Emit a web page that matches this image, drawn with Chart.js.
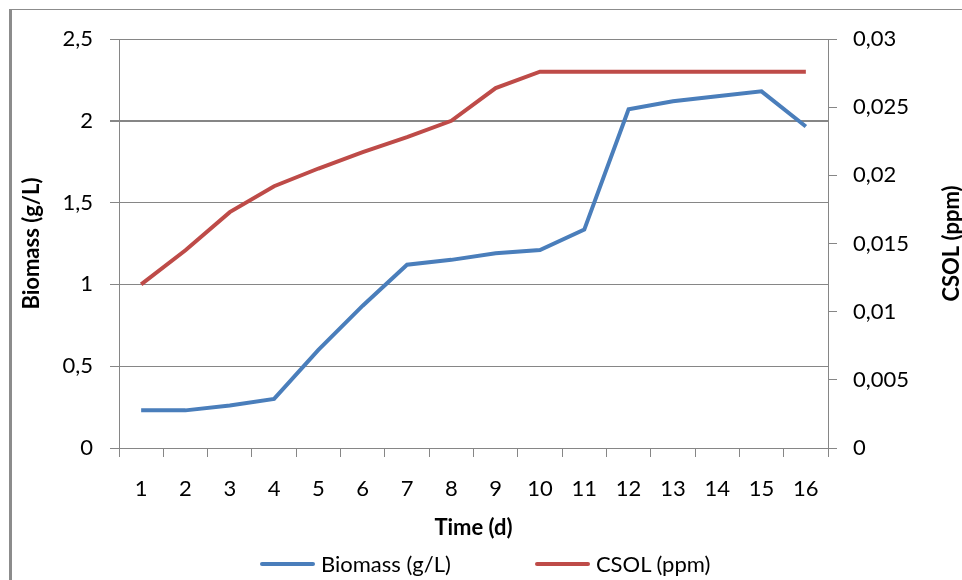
<!DOCTYPE html>
<html>
<head>
<meta charset="utf-8">
<script src="https://cdn.jsdelivr.net/npm/chart.js@4.4.1/dist/chart.umd.min.js"></script>
<style>
  body { margin: 0; background: #fff; }
  #wrap { position: relative; width: 962px; height: 580px; overflow: hidden; }
  #frame { position: absolute; left: 9px; top: 9px; right: -5px; bottom: -5px;
           border-left: 3px solid #8c8c8c; border-top: 1px solid #8c8c8c; pointer-events: none; }
  #legend { position: absolute; left: 260px; top: 551px; display: flex; gap: 84px;
            font-family: Lato, sans-serif; font-size: 22px; color: #000; line-height: 26px; }
  .item { display: flex; align-items: center; }
  .swatch { width: 55px; height: 4px; margin-right: 6px; border-radius: 2px; }
</style>
</head>
<body>
<div id="wrap">
  <canvas id="chart"></canvas>
  <div id="frame"></div>
  <div id="legend"></div>
</div>
<script>
// data
const days = ['1', '2', '3', '4', '5', '6', '7', '8', '9', '10', '11', '12', '13', '14', '15', '16'];
const biomass = [0.23, 0.23, 0.26, 0.30, 0.60, 0.87, 1.12, 1.15, 1.19, 1.21, 1.335, 2.07, 2.12, 2.15, 2.18, 1.965];
const csol = [0.012, 0.0145, 0.0173, 0.0192, 0.0205, 0.0217, 0.0228, 0.024, 0.0264, 0.0276, 0.0276, 0.0276, 0.0276, 0.0276, 0.0276, 0.0276];
const biomassTicks = { min: 0, max: 2.5, step: 0.5 };
const csolTicks = { min: 0, max: 0.03, step: 0.005 };

const gray = '#868686';
const comma = v => Number(v.toFixed(4)).toString().replace('.', ',');

Chart.defaults.font.family = 'Lato';
Chart.defaults.font.size = 22;
Chart.defaults.color = '#000';

// right axis title reads bottom to top, like the left one
const rightTitle = {
  id: 'rightTitle',
  afterDraw(chart) {
    const { ctx, chartArea } = chart;
    ctx.save();
    ctx.translate(952, (chartArea.top + chartArea.bottom) / 2);
    ctx.rotate(-Math.PI / 2);
    ctx.font = 'bold 22px Lato';
    ctx.fillStyle = '#000';
    ctx.textAlign = 'center';
    ctx.textBaseline = 'middle';
    ctx.fillText('CSOL (ppm)', 0, 0);
    ctx.restore();
  }
};

const chart = new Chart(document.getElementById('chart'), {
  type: 'line',
  data: {
    labels: days,
    datasets: [
      {
        label: 'Biomass (g/L)',
        data: biomass,
        borderColor: '#4A7EBB',
        backgroundColor: '#4A7EBB',
        borderWidth: 4,
        pointRadius: 0,
        tension: 0,
        yAxisID: 'y'
      },
      {
        label: 'CSOL (ppm)',
        data: csol,
        borderColor: '#BE4B48',
        backgroundColor: '#BE4B48',
        borderWidth: 4,
        pointRadius: 0,
        tension: 0,
        yAxisID: 'y1'
      }
    ]
  },
  options: {
    responsive: true,
    maintainAspectRatio: false,
    animation: false,
    layout: { padding: { top: 39, bottom: 39, left: 0, right: 0 } },
    plugins: {
      legend: { display: false },
      tooltip: { enabled: false }
    },
    scales: {
      x: {
        offset: true,
        grid: { offset: true, drawOnChartArea: false, tickLength: 9, color: gray },
        border: { color: gray },
        ticks: { padding: 19, maxRotation: 0, autoSkip: false },
        title: { display: true, text: 'Time (d)', font: { weight: 'bold', size: 22 }, padding: { top: 0, bottom: 0 } },
        afterFit: s => { s.height = 93; }
      },
      y: {
        position: 'left',
        min: biomassTicks.min,
        max: biomassTicks.max,
        grid: {
          color: gray,
          tickLength: 9,
          lineWidth: c => (c.tick && c.tick.value === 2 ? 2 : 1)
        },
        border: { color: gray },
        ticks: { stepSize: biomassTicks.step, padding: 17, callback: v => comma(v) },
        title: { display: true, text: 'Biomass (g/L)', font: { weight: 'bold', size: 22 }, padding: { top: 19, bottom: 0 } },
        afterFit: s => { s.width = 119; }
      },
      y1: {
        position: 'right',
        min: csolTicks.min,
        max: csolTicks.max,
        grid: { drawOnChartArea: false, tickLength: 9, color: gray },
        border: { color: gray },
        ticks: { stepSize: csolTicks.step, padding: 16, callback: v => comma(v) },
        title: { display: false, text: 'CSOL (ppm)' },
        afterFit: s => { s.width = 134; }
      }
    }
  },
  plugins: [rightTitle]
});

// legend below the chart
const legend = document.getElementById('legend');
chart.data.datasets.forEach(ds => {
  const item = document.createElement('div');
  item.className = 'item';
  const sw = document.createElement('span');
  sw.className = 'swatch';
  sw.style.background = ds.borderColor;
  const txt = document.createElement('span');
  txt.textContent = ds.label;
  item.appendChild(sw);
  item.appendChild(txt);
  legend.appendChild(item);
});
</script>
</body>
</html>
